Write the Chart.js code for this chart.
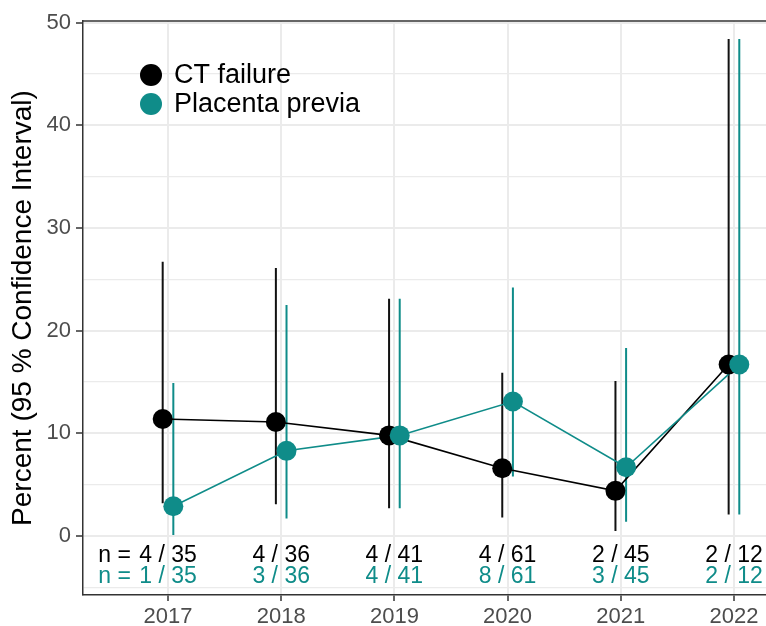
<!DOCTYPE html>
<html><head><meta charset="utf-8">
<script src="https://cdn.jsdelivr.net/npm/chart.js@4/dist/chart.umd.min.js"></script>
<style>html,body{margin:0;padding:0;background:#fff;overflow:hidden}#wrap{width:766px;height:626px;position:relative}</style>
</head><body><div id="wrap"><canvas id="c" width="766" height="626"></canvas></div>
<script>
const years = [2017, 2018, 2019, 2020, 2021, 2022];
const ctPercent = [11.4, 11.1, 9.8, 6.6, 4.4, 16.7];
const ctLower = [3.2, 3.1, 2.7, 1.8, 0.5, 2.1];
const ctUpper = [26.7, 26.1, 23.1, 15.9, 15.1, 48.4];
const ppPercent = [2.9, 8.3, 9.8, 13.1, 6.7, 16.7];
const ppLower = [0.1, 1.7, 2.7, 5.8, 1.4, 2.1];
const ppUpper = [14.9, 22.5, 23.1, 24.2, 18.3, 48.4];
const ctCounts = ["4 / 35", "4 / 36", "4 / 41", "4 / 61", "2 / 45", "2 / 12"];
const ppCounts = ["1 / 35", "3 / 36", "4 / 41", "8 / 61", "3 / 45", "2 / 12"];
const yTicks = [-5, 0, 5, 10, 15, 20, 25, 30, 35, 40, 45, 50];
const seriesNames = ["CT failure", "Placenta previa"];
const yTitle = "Percent (95 % Confidence Interval)";

const FONT = "'Liberation Sans', Arial, sans-serif";
const BLACK = '#000000';
const TEAL = '#0f8c89';
const DODGE = 0.047;
const CT_LABEL_Y = -1.9;
const PP_LABEL_Y = -3.95;

function pts(vals, off) { return years.map((yr, i) => ({ x: yr + off, y: vals[i] })); }
function bars(lo, hi, off) {
  const out = [];
  years.forEach((yr, i) => {
    out.push({ x: yr + off, y: lo[i] }, { x: yr + off, y: hi[i] }, { x: yr + off, y: null });
  });
  return out;
}

const overlay = {
  id: 'overlay',
  beforeDatasetsDraw(chart) {
    const { ctx, chartArea } = chart;
    ctx.save();
    ctx.strokeStyle = '#333333';
    ctx.lineWidth = 1.5;
    ctx.beginPath();
    ctx.moveTo(chartArea.left, chartArea.top);
    ctx.lineTo(chartArea.right, chartArea.top);
    ctx.stroke();
    ctx.restore();
  },
  afterDatasetsDraw(chart) {
    const { ctx, scales } = chart;
    const xs = scales.x, ys = scales.y;
    ctx.save();
    ctx.font = '23px ' + FONT;
    ctx.textBaseline = 'middle';
    years.forEach((yr, i) => {
      const px = xs.getPixelForValue(yr);
      [[ctCounts[i], BLACK, CT_LABEL_Y], [ppCounts[i], TEAL, PP_LABEL_Y]].forEach(([t, col, yv]) => {
        const py = ys.getPixelForValue(yv);
        ctx.fillStyle = col;
        ctx.textAlign = 'center';
        ctx.fillText(t, px, py);
        if (i === 0) {
          const w = ctx.measureText(t).width;
          ctx.textAlign = 'right';
          ctx.fillText('n = ', px - w / 2 - 2, py);
        }
      });
    });
    // legend
    const lx = 151, ly = [75, 104];
    ctx.font = '27px ' + FONT;
    ctx.textAlign = 'left';
    [BLACK, TEAL].forEach((col, k) => {
      ctx.fillStyle = col;
      ctx.beginPath();
      ctx.arc(lx, ly[k], 11, 0, Math.PI * 2);
      ctx.fill();
      ctx.fillStyle = '#000';
      ctx.fillText(seriesNames[k], 174, ly[k] + 1);
    });
    ctx.restore();
  }
};

function noPad(s) { s.paddingLeft = 0; s.paddingRight = 0; s.paddingTop = 0; s.paddingBottom = 0; }

new Chart(document.getElementById('c'), {
  type: 'line',
  data: {
    datasets: [
      { label: seriesNames[1], data: pts(ppPercent, DODGE), showLine: false, pointRadius: 10, pointBackgroundColor: TEAL, pointBorderWidth: 0, pointBorderColor: TEAL },
      { label: seriesNames[0], data: pts(ctPercent, -DODGE), showLine: false, pointRadius: 10, pointBackgroundColor: BLACK, pointBorderWidth: 0, pointBorderColor: BLACK },
      { label: 'pp line', data: pts(ppPercent, DODGE), borderColor: TEAL, borderWidth: 1.6, pointRadius: 0, fill: false, tension: 0 },
      { label: 'ct line', data: pts(ctPercent, -DODGE), borderColor: BLACK, borderWidth: 1.6, pointRadius: 0, fill: false, tension: 0 },
      { label: 'pp ci', data: bars(ppLower, ppUpper, DODGE), borderColor: TEAL, borderWidth: 2, pointRadius: 0, spanGaps: false, fill: false },
      { label: 'ct ci', data: bars(ctLower, ctUpper, -DODGE), borderColor: '#111111', borderWidth: 2, pointRadius: 0, spanGaps: false, fill: false }
    ]
  },
  options: {
    responsive: false,
    animation: false,
    layout: { autoPadding: false, padding: { top: 21, left: 0, right: 0, bottom: 0 } },
    plugins: { legend: { display: false }, tooltip: { enabled: false } },
    scales: {
      x: {
        type: 'linear', min: 2016.249, max: 2022.283,
        afterBuildTicks: s => { s.ticks = years.map(v => ({ value: v })); },
        afterFit: s => { s.height = 31; noPad(s); },
        grid: { color: '#ebebeb', lineWidth: 2, tickLength: 6, tickColor: '#333333', tickWidth: 1.5 },
        border: { color: '#333333', width: 1.5 },
        ticks: { color: '#4d4d4d', font: { size: 22, family: FONT }, padding: 2.5, maxRotation: 0, autoSkip: false, callback: v => String(v) }
      },
      y: {
        type: 'linear', min: -5.74, max: 50.15,
        afterBuildTicks: s => { s.ticks = yTicks.map(v => ({ value: v })); },
        afterFit: s => { s.width = 83; noPad(s); },
        grid: {
          color: '#ebebeb',
          lineWidth: c => (c.tick && c.tick.value % 10 === 0) ? 2 : 1.3,
          tickLength: 7, tickWidth: 1.5,
          tickColor: c => (c.tick && c.tick.value % 10 === 0 && c.tick.value >= 0) ? '#333333' : 'rgba(0,0,0,0)'
        },
        border: { color: '#333333', width: 1.5 },
        ticks: { color: '#4d4d4d', font: { size: 22, family: FONT }, padding: 5, autoSkip: false, callback: v => (v % 10 === 0 && v >= 0) ? String(v) : '' },
        title: { display: true, text: yTitle, color: '#000', font: { size: 28, family: FONT }, padding: { top: 6.5, bottom: 0 } }
      }
    }
  },
  plugins: [overlay]
});
</script>
</body></html>
